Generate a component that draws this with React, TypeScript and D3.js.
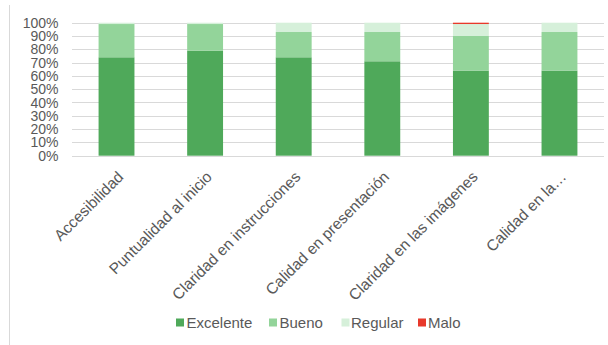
import React from "react";
import * as d3 from "d3";

const categories = [
  "Accesibilidad",
  "Puntualidad al inicio",
  "Claridad en instrucciones",
  "Calidad en presentación",
  "Claridad en las imágenes",
  "Calidad en la…",
];
const seriesNames = ["Excelente", "Bueno", "Regular", "Malo"];
const excelente = [74, 79, 74, 71, 64, 64];
const bueno = [25, 20, 19, 22, 26, 29];
const regular = [1, 1, 7, 7, 9, 7];
const malo = [0, 0, 0, 0, 1, 0];
const colors = ["#4fa95a", "#93d49a", "#d6f0da", "#e8392b"];
const yTicks = [0, 10, 20, 30, 40, 50, 60, 70, 80, 90, 100];

export default function App() {
  const W = 608, H = 345;
  const left = 72, right = 604, top = 22.7, bottom = 155.7;
  const x = d3.scaleBand<string>().domain(categories).range([left, right]).paddingInner(0.595).paddingOuter(0.3);
  const y = d3.scaleLinear().domain([0, 100]).range([bottom, top]);
  const rows = categories.map((c, i) => ({
    cat: c,
    Excelente: excelente[i],
    Bueno: bueno[i],
    Regular: regular[i],
    Malo: malo[i],
  }));
  const stacked = d3.stack<any>().keys(seriesNames)(rows);
  const font = "Liberation Sans, Arial, sans-serif";
  const legendItems = [
    { name: "Excelente", sx: 176, tx: 186.5 },
    { name: "Bueno", sx: 269, tx: 279.5 },
    { name: "Regular", sx: 341.5, tx: 351 },
    { name: "Malo", sx: 418, tx: 428 },
  ];
  return (
    <svg width={W} height={H} style={{ position: "absolute", left: 0, top: 0 }} fontFamily={font}>
      <rect width={W} height={H} fill="#fff" />
      <line x1={9.5} x2={9.5} y1={5} y2={H} stroke="#d9d9d9" />
      {yTicks.map((t) => (
        <g key={t}>
          <line x1={left} x2={right} y1={Math.round(y(t)) + 0.5} y2={Math.round(y(t)) + 0.5} stroke="#d9d9d9" strokeWidth={1} />
          <text x={58.5} y={y(t)} dy="0.36em" textAnchor="end" fontSize={14} fill="#595959">
            {t}%
          </text>
        </g>
      ))}
      {stacked.map((s, si) => (
        <g key={s.key}>
          {s.map((d, i) =>
            d[1] - d[0] > 0 ? (
              <rect
                key={i}
                x={x(categories[i])}
                width={x.bandwidth()}
                y={y(d[1])}
                height={y(d[0]) - y(d[1])}
                fill={colors[si]}
              />
            ) : null
          )}
        </g>
      ))}
      {categories.map((c) => {
        const cx = (x(c) as number) + x.bandwidth() / 2;
        return (
          <text
            key={c}
            transform={`translate(${cx + 4},${174}) rotate(-45)`}
            textAnchor="end"
            dy="0.35em"
            fontSize={15.5}
            fill="#595959"
          >
            {c}
          </text>
        );
      })}
      {legendItems.map((l, i) => (
        <g key={l.name}>
          <rect x={l.sx} y={318.5} width={8} height={8} fill={colors[i]} />
          <text x={l.tx} y={322.5} dy="0.36em" fontSize={15} fill="#595959">
            {l.name}
          </text>
        </g>
      ))}
    </svg>
  );
}
